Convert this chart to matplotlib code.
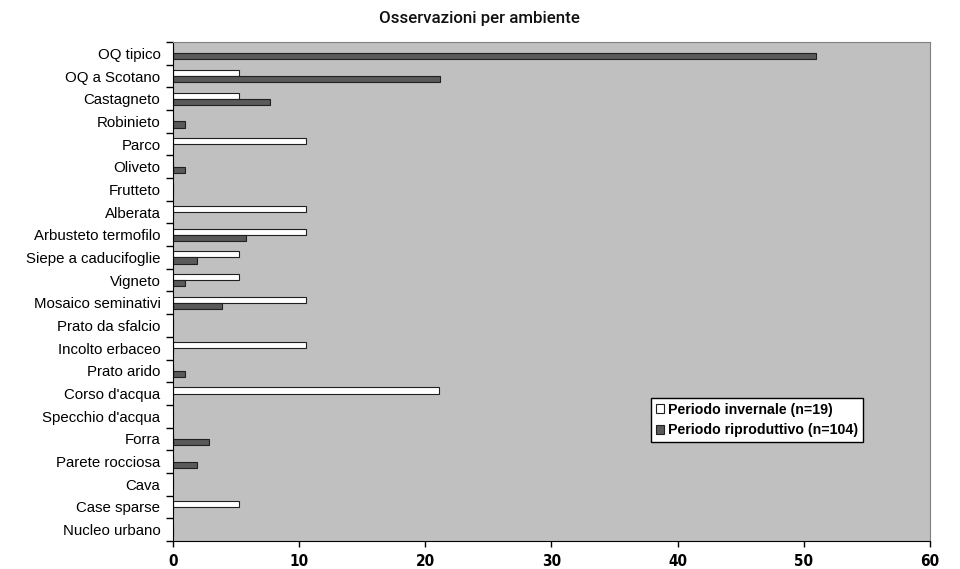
import numpy as np
import matplotlib.pyplot as plt

ambienti = ["OQ tipico", "OQ a Scotano", "Castagneto", "Robinieto", "Parco",
            "Oliveto", "Frutteto", "Alberata", "Arbusteto termofilo",
            "Siepe a caducifoglie", "Vigneto", "Mosaico seminativi",
            "Prato da sfalcio", "Incolto erbaceo", "Prato arido",
            "Corso d'acqua", "Specchio d'acqua", "Forra", "Parete rocciosa",
            "Cava", "Case sparse", "Nucleo urbano"]

# percentuali di osservazioni per ambiente
invernale = [0, 5.26, 5.26, 0, 10.53, 0, 0, 10.53, 10.53, 5.26, 5.26, 10.53,
             0, 10.53, 0, 21.05, 0, 0, 0, 0, 5.26, 0]
riproduttivo = [50.96, 21.15, 7.69, 0.96, 0, 0.96, 0, 0, 5.77, 1.92, 0.96,
                3.85, 0, 0, 0.96, 0, 0, 2.88, 1.92, 0, 0, 0]

xticks = [0, 10, 20, 30, 40, 50, 60]

plt.rcParams['font.family'] = ['Liberation Sans', 'DejaVu Sans']

fig = plt.figure(figsize=(9.6, 5.69), dpi=100)
ax = fig.add_axes([0.1802, 0.0492, 0.7885, 0.877])
ax.set_facecolor('#c0c0c0')

y = np.arange(len(ambienti))
h = 0.27
ax.barh(y - h / 2, invernale, height=h, color='white', edgecolor='#202020',
        linewidth=0.8, label='Periodo invernale (n=19)')
ax.barh(y + h / 2, riproduttivo, height=h, color='#5a5a5a', edgecolor='#202020',
        linewidth=0.8, label='Periodo riproduttivo (n=104)')

ax.set_xlim(0, 60)
ax.set_ylim(len(ambienti) - 0.5, -0.5)
ax.set_xticks(xticks)
ax.set_xticklabels([str(t) for t in xticks], family='DejaVu Sans',
                   fontstretch='condensed', fontweight='bold', fontsize=11)
ax.set_yticks(y)
ax.set_yticklabels(ambienti, fontsize=10.8)
ax.tick_params(axis='y', length=0, pad=9)
ax.set_yticks(np.arange(len(ambienti) + 1) - 0.5, minor=True)
ax.tick_params(axis='y', which='minor', length=5, width=1, color='black')
ax.tick_params(axis='x', length=4, width=1, pad=5)

for s in ['top', 'right']:
    ax.spines[s].set_color('#808080')
for s in ['left', 'bottom']:
    ax.spines[s].set_color('black')

fig.text(0.4995, 0.967, 'Osservazioni per ambiente', ha='center', va='center',
         family=['Roboto', 'Liberation Sans'], fontweight='medium',
         fontsize=12.2, color='#111111')

leg = ax.legend(loc='upper left', bbox_to_anchor=(0.631, 0.287),
                prop={'weight': 'bold', 'size': 10.2, 'family': 'Liberation Sans'},
                frameon=True, fancybox=False, edgecolor='black',
                framealpha=1, borderpad=0.35, handlelength=0.6,
                handleheight=0.6, handletextpad=0.3, labelspacing=0.45,
                borderaxespad=0)
leg.get_frame().set_linewidth(1)

fig.savefig('out.png', dpi=100)
